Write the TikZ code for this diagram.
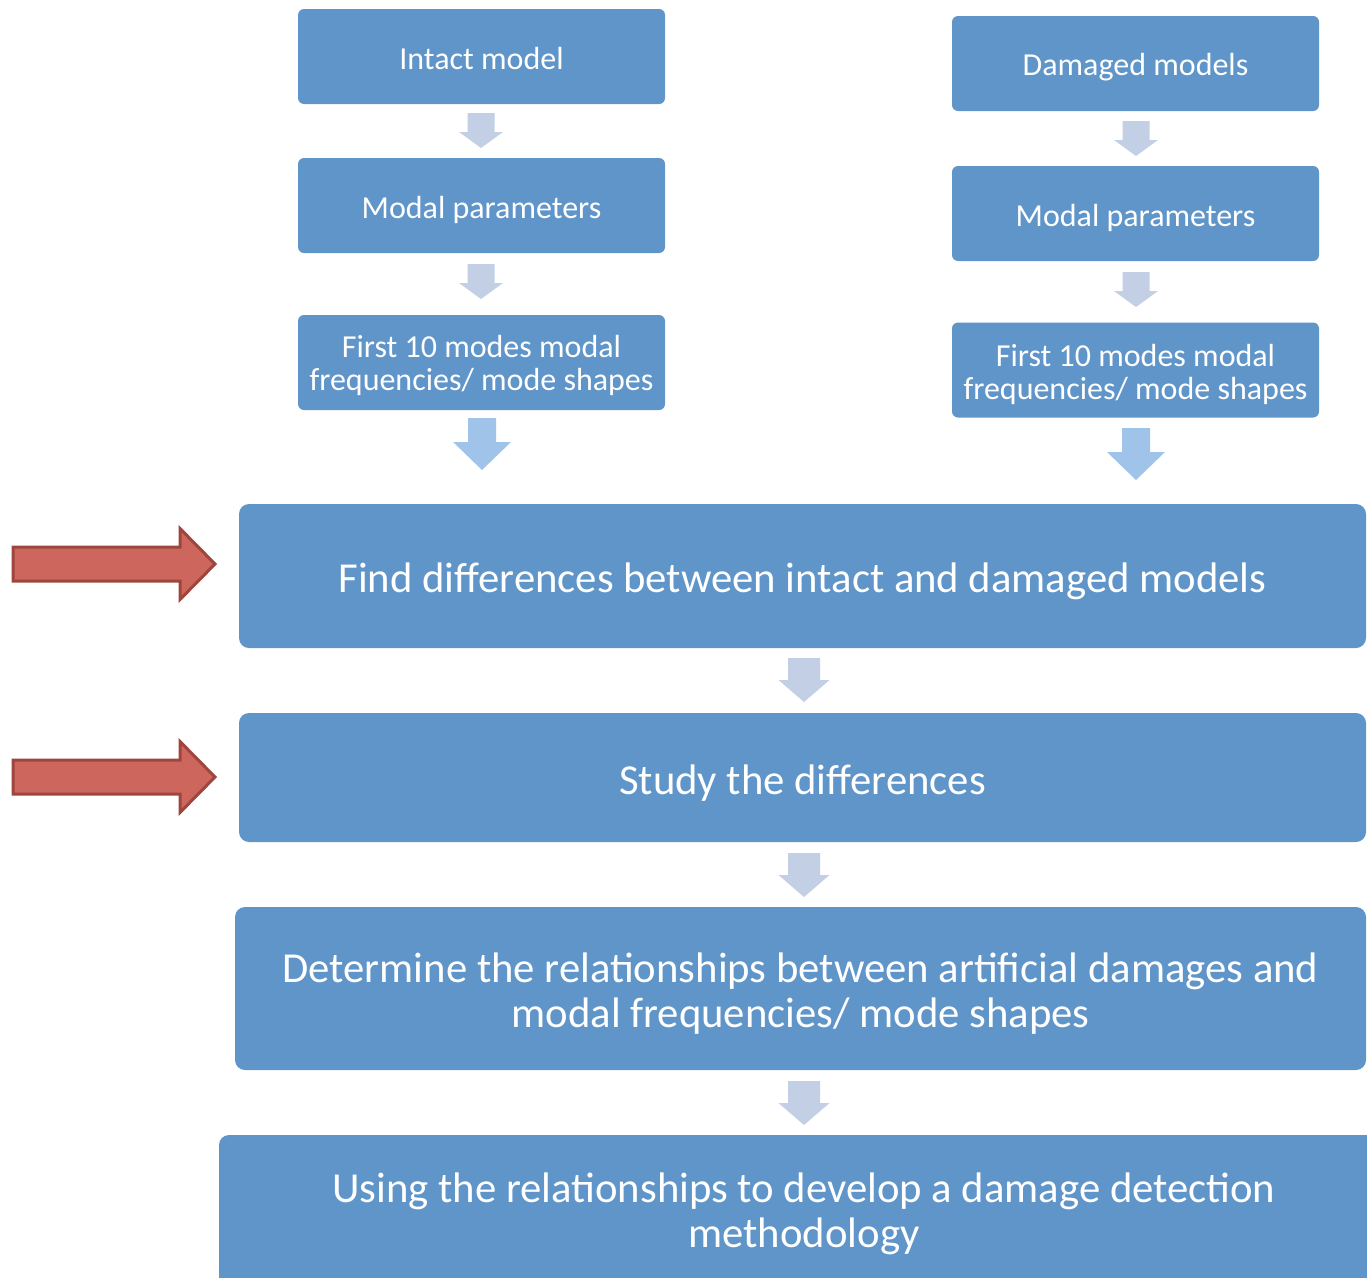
\documentclass[tikz,border=0pt]{standalone}
\usepackage{fontspec}
\setmainfont{Carlito}
\usetikzlibrary{calc}
\definecolor{boxblue}{HTML}{6095C9}
\definecolor{smallarr}{HTML}{C2CFE5}
\definecolor{bigarr}{HTML}{A0C3EA}
\definecolor{redfill}{HTML}{CD665C}
\definecolor{reddraw}{HTML}{9E463E}
\newcommand{\toppad}{\rule{0pt}{0.95em}}
\tikzset{
  x=1pt,y=1pt,
  box/.style={rectangle, rounded corners=6pt, fill=boxblue, text=white, align=center, inner sep=0pt},
  smallbox/.style={box, minimum width=367pt, minimum height=95pt, font=\fontsize{32}{33}\selectfont},
  bigbox/.style={box, rounded corners=10pt, font=\fontsize{42.7}{45}\selectfont},
  pics/darrow/.style n args={5}{code={
    \fill[#5] (-#1,0) -- (#1,0) -- (#1,-#3) -- (#2,-#3) -- (0,-#4) -- (-#2,-#3) -- (-#1,-#3) -- cycle;}},
  pics/sarrow/.style={darrow={13.5}{22}{19}{35}{smallarr}},
  pics/marrow/.style={darrow={16}{25.5}{22}{44}{smallarr}},
  pics/barrow/.style={darrow={14}{29}{24}{52}{bigarr}},
  pics/rarrow/.style={code={
    \filldraw[fill=redfill, draw=reddraw, line width=3pt, line join=miter]
      (0,17) -- (167,17) -- (167,35.5) -- (202,0) -- (167,-35.5) -- (167,-17) -- (0,-17) -- cycle;}}
}
\begin{document}
\begin{tikzpicture}
\useasboundingbox (0,0) rectangle (1367,-1277);
\clip (0,0) rectangle (1367,-1277);
% left column
\node[smallbox] (intact) at (481.5,-56.5) {\rule{0pt}{0.85em}Intact model};
\node[smallbox] (modalL) at (481.5,-205.5) {\toppad Modal parameters};
\node[smallbox] (firstL) at (481.5,-362.5) {\rule{0pt}{0.85em}First 10 modes modal\\frequencies/ mode shapes};
% right column
\node[smallbox] (damaged) at (1135.5,-63.5) {\toppad Damaged models};
\node[smallbox] (modalR) at (1135.5,-213.5) {\toppad Modal parameters};
\node[smallbox] (firstR) at (1135.5,-370) {\toppad First 10 modes modal\\frequencies/ mode shapes};
% big boxes
\node[bigbox, minimum width=1127pt, minimum height=144pt] (find) at (802.5,-576) {\toppad Find differences between intact and damaged models};
\node[bigbox, minimum width=1127pt, minimum height=129pt] (study) at (802.5,-777.5) {\toppad Study the differences};
\node[bigbox, minimum width=1131pt, minimum height=163pt] (determine) at (800.5,-988.5) {\toppad Determine the relationships between artificial damages and\\modal frequencies/ mode shapes};
\node[bigbox, minimum width=1170pt, minimum height=152pt] (using) at (804,-1211) {\rule{0pt}{0.82em}Using the relationships to develop a damage detection\\methodology};
% arrows left column
\pic at (481,-113) {sarrow};
\pic at (481,-264) {sarrow};
\pic at (482,-418) {barrow};
% arrows right column
\pic at (1136,-121) {sarrow};
\pic at (1136,-272) {sarrow};
\pic at (1136,-428) {barrow};
% arrows middle
\pic at (804,-658) {marrow};
\pic at (804,-853) {marrow};
\pic at (804,-1081) {marrow};
% red arrows
\pic at (13,-564) {rarrow};
\pic at (13,-777) {rarrow};
\end{tikzpicture}
\end{document}
